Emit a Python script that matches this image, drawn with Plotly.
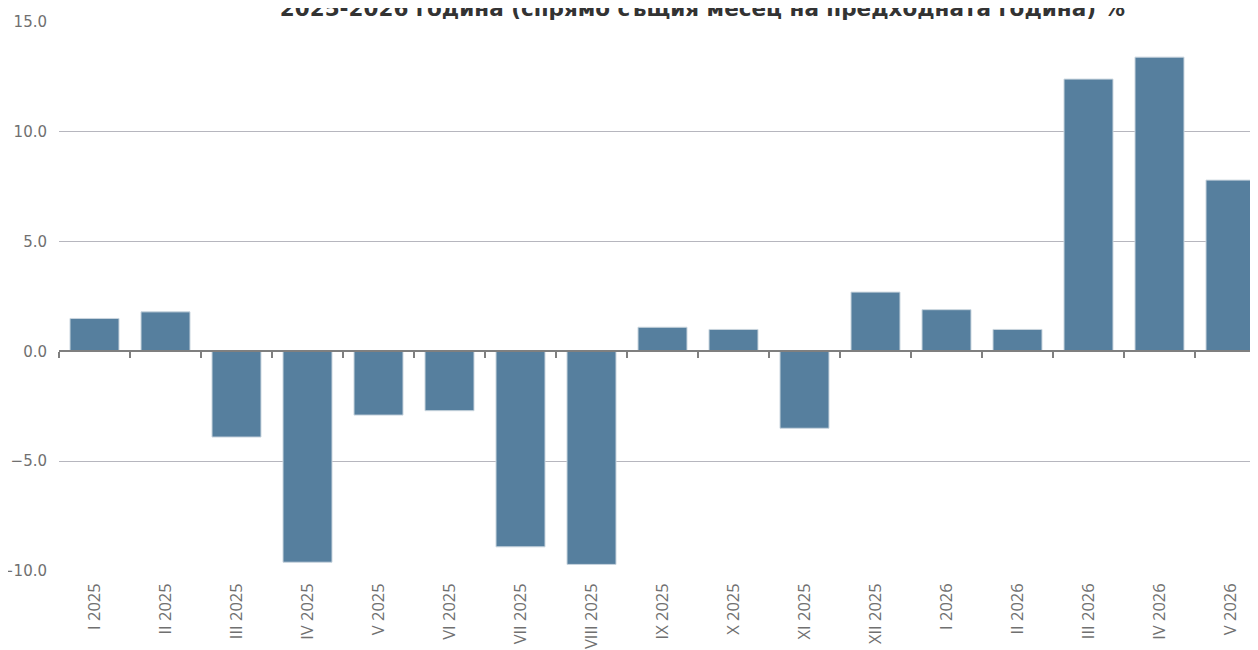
import plotly.graph_objects as go

categories = ["I 2025", "II 2025", "III 2025", "IV 2025", "V 2025", "VI 2025",
              "VII 2025", "VIII 2025", "IX 2025", "X 2025", "XI 2025", "XII 2025",
              "I 2026", "II 2026", "III 2026", "IV 2026", "V 2026"]
values = [1.5, 1.8, -3.9, -9.6, -2.9, -2.7, -8.9, -9.7, 1.1, 1.0, -3.5, 2.7,
          1.9, 1.0, 12.4, 13.4, 7.8]
y_ticks = [-10, -5, 0, 5, 10, 15]
title_text = "2025-2026 година (спрямо същия месец на предходната година) %"

# page body has an 8px margin, so figure coords are offset by 8px
W, H = 1258, 650
ml, mr, mt, mb = 51, 8, 14, 87
n = len(categories)
cat_px = 71.0
x_end = -0.5 + (W - ml - mr) / cat_px

fig = go.Figure()
fig.add_trace(go.Bar(
    x=categories, y=values,
    marker=dict(color="#567f9e", line=dict(color="#c9d5de", width=1)),
    width=0.69,
    xaxis="x", yaxis="y",
    hoverinfo="x+y",
))
# invisible helper trace for the zero-line axis with ticks at boundaries
fig.add_trace(go.Bar(x=categories, y=[0] * n, xaxis="x2", yaxis="y",
                     showlegend=False, hoverinfo="skip", marker=dict(color="rgba(0,0,0,0)")))

ymin, ymax = -10, 15
fig.update_layout(
    width=W, height=H,
    margin=dict(l=ml, r=mr, t=mt, b=mb, pad=0, autoexpand=False),
    paper_bgcolor="white", plot_bgcolor="white",
    showlegend=False,
    barmode="overlay",
    font=dict(family="DejaVu Sans", color="#666666"),
    xaxis=dict(
        type="category", categoryorder="array", categoryarray=categories,
        range=[-0.5, x_end], automargin=False,
        showgrid=False, zeroline=False, showline=False, ticks="",
        tickangle=-90, tickfont=dict(family="Open Sans", size=16.5, color="#707070"),
        ticklabelstandoff=8,
    ),
    xaxis2=dict(
        type="category", categoryorder="array", categoryarray=categories,
        range=[-0.5, x_end], automargin=False,
        overlaying="x", anchor="free",
        position=(0 - ymin) / (ymax - ymin),
        showgrid=False, zeroline=False, showticklabels=False,
        showline=True, linecolor="#7f7f7f", linewidth=1.5,
        ticks="outside", tickson="boundaries", ticklen=6, tickwidth=1.5, tickcolor="#7f7f7f",
    ),
    yaxis=dict(
        range=[ymin, ymax], tickvals=y_ticks, tickformat=".1f", automargin=False,
        showgrid=True, gridcolor="#b6b6be", gridwidth=1,
        zeroline=False, showline=False, ticks="",
        tickfont=dict(family="DejaVu Sans", size=15, color="#707070"),
        ticklabelstandoff=11,
    ),
    title=dict(
        text="<b>" + title_text + "</b>",
        x=0.552, xanchor="center",
        y=1.0, yanchor="middle", yref="container",
        font=dict(family="DejaVu Sans", size=21.5, color="#333333"),
        automargin=False,
    ),
)
fig.write_html("out.html")
